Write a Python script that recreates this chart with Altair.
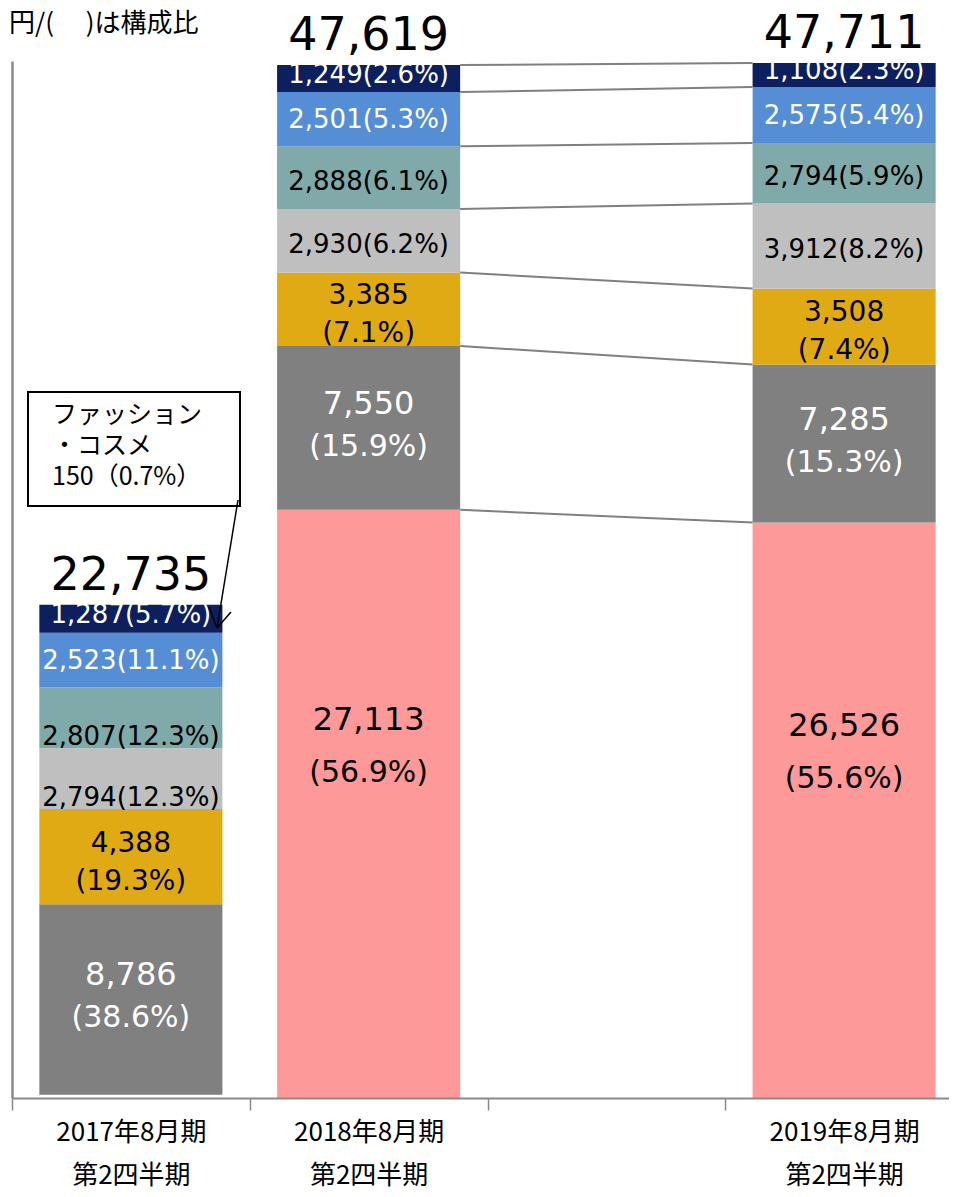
import altair as alt
import pandas as pd

# ---------------- data ----------------
categories = ["2017年8月期|第2四半期", "2018年8月期|第2四半期", " ", "2019年8月期|第2四半期"]
bar_categories = ["2017年8月期|第2四半期", "2018年8月期|第2四半期", "2019年8月期|第2四半期"]

# segments, bottom to top
segments = ["ファッション・コスメ", "区分B", "区分C", "区分D", "区分E", "区分F", "区分G"]
seg_colors = ["#fe9999", "#808080", "#e0aa15", "#bfbfbf", "#7faaa9", "#558ed5", "#0c1f5f"]

fashion_values = [150, 27113, 26526]
fashion_pcts = [0.7, 56.9, 55.6]
b_values = [8786, 7550, 7285]
b_pcts = [38.6, 15.9, 15.3]
c_values = [4388, 3385, 3508]
c_pcts = [19.3, 7.1, 7.4]
d_values = [2794, 2930, 3912]
d_pcts = [12.3, 6.2, 8.2]
e_values = [2807, 2888, 2794]
e_pcts = [12.3, 6.1, 5.9]
f_values = [2523, 2501, 2575]
f_pcts = [11.1, 5.3, 5.4]
g_values = [1287, 1249, 1108]
g_pcts = [5.7, 2.6, 2.3]
totals = [22735, 47619, 47711]

seg_values = [fashion_values, b_values, c_values, d_values, e_values, f_values, g_values]
seg_pcts = [fashion_pcts, b_pcts, c_pcts, d_pcts, e_pcts, f_pcts, g_pcts]

rows = []
for i, cat in enumerate(bar_categories):
    cum = 0
    for s, name in enumerate(segments):
        v = seg_values[s][i]
        p = seg_pcts[s][i]
        rows.append(dict(cat=cat, seg=name, order=s, value=v, start=cum, end=cum + v,
                         mid=cum + v / 2, num=f"{v:,}", pct=f"({p}%)",
                         small=f"{v:,}({p}%)"))
        cum += v
df = pd.DataFrame(rows)

tot_df = pd.DataFrame({"cat": bar_categories, "total": totals,
                       "label": [f"{t:,}" for t in totals]})

e18 = df[df.cat == bar_categories[1]].sort_values("order")["end"].values
e19 = df[df.cat == bar_categories[2]].sort_values("order")["end"].values
rules_df = pd.DataFrame({"c1": bar_categories[1], "c2": bar_categories[2], "y1": e18, "y2": e19})

# ---------------- encodings ----------------
NUMFONT = "DejaVu Sans"
JPFONT = "Noto Sans CJK JP"
BAND = 0.77

xscale = alt.Scale(type="band", domain=categories, range=[0, 951], paddingInner=0, paddingOuter=0)
yscale = alt.Scale(domain=[0, 47800], nice=False, zero=True)
xaxis = alt.Axis(title=None, labelAngle=0,
                 labelExpr="isValid(datum.value) ? split(datum.value, '|') : ''",
                 labelFont=JPFONT, labelFontSize=26, labelLineHeight=43, labelColor="#000000",
                 labelPadding=9, tickBand="extent", tickSize=12, tickColor="#898989",
                 tickWidth=1.5, domainColor="#898989", domainWidth=2, grid=False,
                 labelOverlap=False, zindex=1)
yaxis = alt.Axis(title=None, labels=False, ticks=False, grid=False,
                 domainColor="#898989", domainWidth=2.5)

X = alt.X("cat:N", scale=xscale, axis=xaxis)

bars = alt.Chart(df).mark_bar(width=alt.RelativeBandSize(BAND)).encode(
    x=X,
    y=alt.Y("start:Q", scale=yscale, axis=yaxis),
    y2="end:Q",
    color=alt.Color("seg:N", scale=alt.Scale(domain=segments, range=seg_colors), legend=None),
    opacity=alt.condition("datum.value < 1000", alt.value(0), alt.value(1)),
)

rules = alt.Chart(rules_df).mark_rule(color="#808080", strokeWidth=2).encode(
    x=alt.X("c1:N", scale=xscale, axis=xaxis, bandPosition=0.5 + BAND / 2),
    x2=alt.X2("c2", bandPosition=0.5 - BAND / 2),
    y=alt.Y("y1:Q", scale=yscale, axis=yaxis),
    y2="y2:Q",
)


def label_layer(data, field, size, color, dy):
    return alt.Chart(data).mark_text(font=NUMFONT, fontSize=size, color=color, dy=dy,
                                     align="center", baseline="middle").encode(
        x=X, y=alt.Y("mid:Q", scale=yscale, axis=yaxis), text=f"{field}:N")


navy = df[df.seg == "区分G"]
blue = df[df.seg == "区分F"]
light_small = df[df.seg.isin(["区分D", "区分E"])]
light_first = light_small[light_small.cat == bar_categories[0]]
light_rest = light_small[light_small.cat != bar_categories[0]]
gold = df[df.seg == "区分C"]
dgray = df[df.seg == "区分B"]
pink = df[(df.seg == "ファッション・コスメ") & (df.value > 1000)]

labels = [
    label_layer(navy, "small", 26, "white", -4),
    label_layer(blue, "small", 26, "white", 1),
    label_layer(light_first, "small", 26, "black", 19),
    label_layer(light_rest, "small", 26, "black", 4),
    label_layer(gold, "num", 28, "black", -13),
    label_layer(gold, "pct", 28, "black", 25),
    label_layer(dgray, "num", 32, "white", -24),
    label_layer(dgray, "pct", 30, "white", 19),
    label_layer(pink, "num", 32, "black", -84),
    label_layer(pink, "pct", 30, "black", -31),
]

tot = alt.Chart(tot_df).mark_text(font=NUMFONT, fontSize=46, color="black", dy=-15,
                                  align="center", baseline="alphabetic").encode(
    x=X, y=alt.Y("total:Q", scale=yscale, axis=yaxis), text="label:N")

one = pd.DataFrame({"a": [0]})
header = alt.Chart(one).mark_text(text="円/(　 )は構成比", font=JPFONT, fontSize=26,
                                  color="black", align="left", baseline="middle").encode(
    x=alt.value(-3), y=alt.value(-37))

box = alt.Chart(one).mark_rect(fill="white", stroke="black", strokeWidth=2).encode(
    x=alt.value(16), x2=alt.value(228), y=alt.value(331), y2=alt.value(445))
box_text = alt.Chart(one).mark_text(text=["ファッション", "・コスメ", "150（0.7%）"], font=JPFONT,
                                    fontSize=25, lineHeight=31, color="black",
                                    align="left", baseline="top").encode(
    x=alt.value(40), y=alt.value(342))
arrow_line = alt.Chart(one).mark_rule(color="black", strokeWidth=1.5).encode(
    x=alt.value(226), y=alt.value(439), x2=alt.value(205), y2=alt.value(567))
arrow_l = alt.Chart(one).mark_rule(color="black", strokeWidth=1.5).encode(
    x=alt.value(205), y=alt.value(567), x2=alt.value(197), y2=alt.value(546))
arrow_r = alt.Chart(one).mark_rule(color="black", strokeWidth=1.5).encode(
    x=alt.value(205), y=alt.value(567), x2=alt.value(219), y2=alt.value(551))

chart = alt.layer(bars, rules, *labels, tot, header, box, box_text, arrow_line, arrow_l, arrow_r).properties(
    width=937, height=1037,
    autosize=alt.AutoSizeParams(type="none"),
    padding={"left": 4, "top": 53, "right": 0, "bottom": 90},
).configure_view(stroke=None)

chart.save("out.html", embed_options={"renderer": "svg", "actions": False})
